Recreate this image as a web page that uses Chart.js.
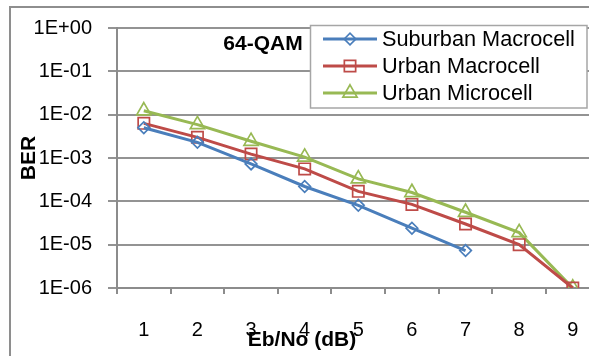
<!DOCTYPE html>
<html><head><meta charset="utf-8">
<script src="https://cdn.jsdelivr.net/npm/chart.js@4.4.0/dist/chart.umd.min.js"></script>
<style>html,body{margin:0;padding:0;background:#fff;overflow:hidden;width:589px;height:356px}canvas{display:block}</style>
</head><body><canvas id="c" width="620" height="356"></canvas>
<script>
const categories = ['1','2','3','4','5','6','7','8','9'];
const seriesNames = ['Suburban Macrocell','Urban Macrocell','Urban Microcell'];
const suburbanMacrocell = [5.0e-3, 2.3e-3, 7.3e-4, 2.2e-4, 8.1e-5, 2.4e-5, 7.3e-6, null, null];
const urbanMacrocell = [6.3e-3, 3.0e-3, 1.23e-3, 5.6e-4, 1.7e-4, 8.5e-5, 3.0e-5, 1.0e-5, 1.0e-6];
const urbanMicrocell = [1.23e-2, 5.9e-3, 2.43e-3, 1.05e-3, 3.3e-4, 1.6e-4, 5.6e-5, 1.9e-5, 1.0e-6];
const yTickValues = [1e-6, 1e-5, 1e-4, 1e-3, 1e-2, 1e-1, 1];
const chartLabel = '64-QAM';
const xTitle = 'Eb/No (dB)';
const yTitle = 'BER';

const colors = ['#4a7ebb', '#be4b48', '#98b954'];
const styles = ['rectRot', 'rect', 'triangle'];
const radii = [5.8, 8, 8.2];
const FONT = "'Liberation Sans', Arial, sans-serif";

function fmtExp(v) {
  const e = Math.round(Math.log10(v));
  const s = e < 0 ? '-' : '+';
  return '1E' + s + String(Math.abs(e)).padStart(2, '0');
}

const allSeries = [suburbanMacrocell, urbanMacrocell, urbanMicrocell];
const datasets = allSeries.map((d, i) => ({
  label: seriesNames[i],
  data: d,
  borderColor: colors[i],
  backgroundColor: 'rgba(0,0,0,0)',
  borderWidth: 3,
  pointStyle: styles[i],
  pointRadius: radii[i],
  pointBorderWidth: 1.7,
  pointBorderColor: colors[i],
  pointBackgroundColor: 'rgba(0,0,0,0)',
  tension: 0,
  fill: false
}));

function marker(ctx, style, r, x, y, color) {
  ctx.save();
  ctx.strokeStyle = color; ctx.lineWidth = 1.7;
  ctx.beginPath();
  if (style === 'rectRot') {
    ctx.moveTo(x - r, y); ctx.lineTo(x, y - r); ctx.lineTo(x + r, y); ctx.lineTo(x, y + r); ctx.closePath();
  } else if (style === 'rect') {
    const s = Math.SQRT1_2 * r; ctx.rect(x - s, y - s, 2 * s, 2 * s);
  } else {
    let a = 0;
    ctx.moveTo(x + Math.sin(a) * r, y - Math.cos(a) * r);
    a += 2 * Math.PI / 3; ctx.lineTo(x + Math.sin(a) * r, y - Math.cos(a) * r);
    a += 2 * Math.PI / 3; ctx.lineTo(x + Math.sin(a) * r, y - Math.cos(a) * r);
    ctx.closePath();
  }
  ctx.stroke();
  ctx.restore();
}

const decor = {
  id: 'decor',
  afterDraw(chart) {
    const ctx = chart.ctx;
    ctx.save();
    // outer frame
    ctx.strokeStyle = '#8e8e8e'; ctx.lineWidth = 2;
    ctx.beginPath(); ctx.moveTo(10, 400); ctx.lineTo(10, 7); ctx.lineTo(700, 7); ctx.stroke();
    // in-chart label
    ctx.fillStyle = '#000';
    ctx.font = 'bold 21px ' + FONT;
    ctx.textAlign = 'center'; ctx.textBaseline = 'middle';
    ctx.fillText(chartLabel, 263, 44);
    // axis titles
    ctx.fillText(xTitle, 302, 340);
    ctx.save(); ctx.translate(29, 158); ctx.rotate(-Math.PI / 2);
    ctx.fillText(yTitle, 0, 0); ctx.restore();
    // legend
    ctx.fillStyle = '#fff';
    ctx.fillRect(310, 25, 277, 83);
    ctx.strokeStyle = '#a6a6a6'; ctx.lineWidth = 1.5;
    ctx.strokeRect(310.5, 25.5, 276.5, 82.5);
    ctx.font = '21.7px ' + FONT; ctx.textAlign = 'left';
    chart.data.datasets.forEach((ds, i) => {
      const y = 39 + i * 27;
      ctx.strokeStyle = ds.borderColor; ctx.lineWidth = 3;
      ctx.beginPath(); ctx.moveTo(323, y); ctx.lineTo(377, y); ctx.stroke();
      ctx.fillStyle = '#fff';
      marker(ctx, ds.pointStyle, ds.pointRadius, 350, y, ds.borderColor);
      ctx.fillStyle = '#000';
      ctx.fillText(ds.label, 382, y + 1);
    });
    ctx.restore();
  }
};

new Chart(document.getElementById('c'), {
  type: 'line',
  data: { labels: categories, datasets },
  options: {
    responsive: false,
    animation: false,
    devicePixelRatio: 1,
    layout: { padding: { left: 0, top: 24, right: 20.4, bottom: 0 } },
    plugins: { legend: { display: false }, tooltip: { enabled: false } },
    scales: {
      x: {
        type: 'category',
        offset: true,
        grid: { offset: true, drawOnChartArea: false, tickLength: 6, color: '#8c8c8c', lineWidth: 2 },
        border: { color: '#8c8c8c', width: 2 },
        ticks: { color: '#000', font: { family: FONT, size: 20 }, padding: 24, maxRotation: 0, autoSkip: false },
        afterFit(s) { s.height = 68; }
      },
      y: {
        type: 'logarithmic',
        min: 1e-6, max: 1,
        afterBuildTicks(s) { s.ticks = yTickValues.map(v => ({ value: v })); },
        grid: { color: '#939393', lineWidth: 2, tickLength: 9 },
        border: { color: '#8c8c8c', width: 2 },
        ticks: { color: '#000', font: { family: FONT, size: 20 }, padding: 16, callback: v => fmtExp(v) },
        afterFit(s) { s.width = 117; }
      }
    }
  },
  plugins: [decor]
});
</script>
</body></html>
